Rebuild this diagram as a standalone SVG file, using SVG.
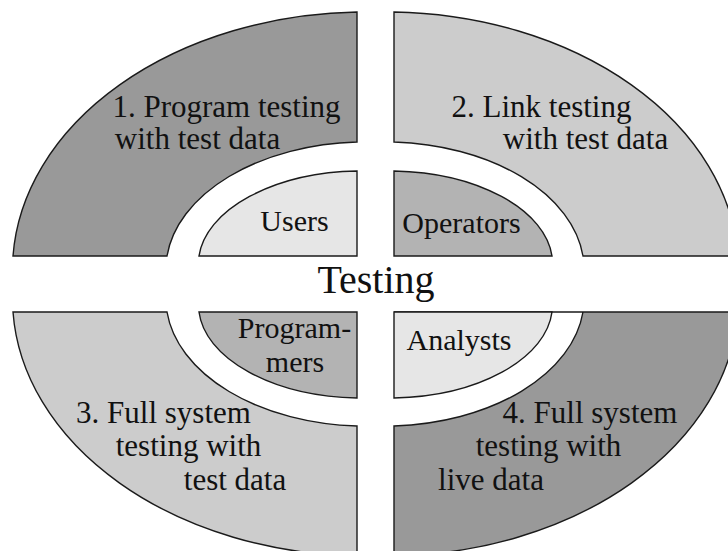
<svg xmlns="http://www.w3.org/2000/svg" width="728" height="551" viewBox="0 0 728 551">
  <style>
    .seg { stroke: #1a1a1a; stroke-width: 1.4; stroke-linejoin: miter; }
    .dark { fill: #999999; }
    .light { fill: #cccccc; }
    .mid { fill: #b3b3b3; }
    .pale { fill: #e6e6e6; }
    text { font-family: "Liberation Serif", "Times New Roman", serif; fill: #111; text-anchor: middle; }
    .outer { font-size: 31px; }
    .inner { font-size: 30px; }
    .title { font-size: 40px; }
  </style>
  <rect width="728" height="551" fill="#ffffff"/>

  <!-- outer ring: four testing stages -->
  <g id="stage1">
    <path class="seg dark" d="M357,12 L357,142 A200,128 0 0 0 167,256 L13,256 A353.5,258 0 0 1 357,12 Z"/>
    <text class="outer" x="226.5" y="117">1. Program testing</text>
    <text class="outer" x="197.5" y="149">with test data</text>
  </g>
  <g id="stage2">
    <path class="seg light" d="M394,12 A353.5,258 0 0 1 738,256 L583,256 A200,128 0 0 0 394,142 Z"/>
    <text class="outer" x="541.5" y="117">2. Link testing</text>
    <text class="outer" x="585.5" y="149">with test data</text>
  </g>
  <g id="stage3">
    <path class="seg light" d="M13,312 L167,312 A200,128 0 0 0 357,426 L357,556 A353.5,258 0 0 1 13,312 Z"/>
    <text class="outer" x="163.5" y="423">3. Full system</text>
    <text class="outer" x="188.5" y="456">testing with</text>
    <text class="outer" x="235" y="490">test data</text>
  </g>
  <g id="stage4">
    <path class="seg dark" d="M394,312 L583,312 A200,128 0 0 1 394,426 L394,556 A353.5,258 0 0 0 738,312 Z"/>
    <text class="outer" x="590" y="423">4. Full system</text>
    <text class="outer" x="548.5" y="456">testing with</text>
    <text class="outer" x="491" y="490">live data</text>
  </g>

  <!-- inner ring: the people involved -->
  <g id="users">
    <path class="seg pale" d="M357,171 L357,256 L199,256 A164,93 0 0 1 357,171 Z"/>
    <text class="inner" x="294.5" y="231">Users</text>
  </g>
  <g id="operators">
    <path class="seg mid" d="M394,171 A164,93 0 0 1 552,256 L394,256 Z"/>
    <text class="inner" x="461.5" y="233">Operators</text>
  </g>
  <g id="programmers">
    <path class="seg mid" d="M199,312 L357,312 L357,398 A164,93 0 0 1 199,312 Z"/>
    <text class="inner" x="294.5" y="338">Program-</text>
    <text class="inner" x="295" y="372">mers</text>
  </g>
  <g id="analysts">
    <path class="seg pale" d="M394,312 L552,312 A164,93 0 0 1 394,398 Z"/>
    <text class="inner" x="459" y="350">Analysts</text>
  </g>

  <!-- centre label -->
  <g id="testing">
    <text class="title" x="376" y="293">Testing</text>
  </g>

  <g id="connectors"></g>
</svg>
